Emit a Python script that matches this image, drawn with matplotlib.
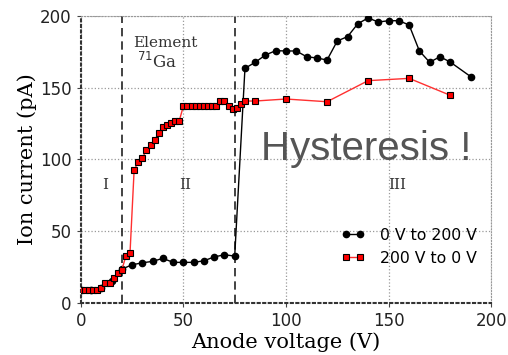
import numpy as np
import matplotlib
matplotlib.use('Agg')
import matplotlib.pyplot as plt

# sweep up: 0 V -> 200 V
up_v = [0, 5, 10, 15, 20, 25, 30, 35, 40, 45, 50, 55, 60, 65, 70, 75,
        80, 85, 90, 95, 100, 105, 110, 115, 120, 125, 130, 135, 140, 145,
        150, 155, 160, 165, 170, 175, 180, 190]
up_i = [9, 9, 10.5, 15, 23.5, 26.5, 27.9, 28.9, 31, 28.2, 28.2, 28.2, 29.3, 32, 33.5, 32.6,
        163.5, 167.7, 172.8, 175.8, 175.6, 175.6, 171.6, 170.7, 169.3, 182.6, 185.6, 194.6, 198.6, 195.8,
        196.7, 196.7, 193.7, 175.6, 167.7, 171.6, 167.9, 157.7]

# sweep down: 200 V -> 0 V
down_v = [0, 2, 4, 6, 8, 10, 12, 14, 16, 18, 20, 22, 24, 26, 28, 30, 32, 34, 36, 38,
          40, 42, 44, 46, 48, 50, 52, 54, 56, 58, 60, 62, 64, 66, 68, 70, 72, 74,
          76, 78, 80, 85, 100, 120, 140, 160, 180]
down_i = [9, 9, 9, 9, 9, 10.5, 13.7, 13.7, 17.4, 20.5, 22.8, 32.8, 34.9, 92.6, 98.2, 101, 106.3, 110, 113.7, 118.2,
          122.8, 123.8, 125.4, 127, 127, 137.2, 137.2, 137.2, 137.2, 137.2, 137.2, 137.2, 137.2, 137.2, 140.7, 140.7, 137.2, 135.1,
          135.6, 138.6, 140.7, 140.7, 142.1, 140.2, 154.9, 156.5, 144.7]

region_bounds = [20, 75]
region_names = ['I', 'II', 'III']
region_x = [11.7, 50.7, 154]

fig = plt.figure(figsize=(5.08, 3.55), dpi=100)
ax = fig.add_axes([0.159, 0.147, 0.808, 0.808])

ax.plot(up_v, up_i, '-o', color='black', lw=1.0, ms=4.5, label='0 V to 200 V', zorder=3)
ax.plot(down_v, down_i, '-s', color='#ff3030', lw=1.0, ms=5, mfc='red', mec='black', mew=0.8,
        label='200 V to 0 V', zorder=4)

for b in region_bounds:
    ax.axvline(b, color='#222222', ls='--', lw=1.2, dashes=(5, 3), zorder=2)

for name, xv in zip(region_names, region_x):
    ax.text(xv, 82, name, family='DejaVu Serif', fontsize=11, ha='center', va='center', color='#333333')

ax.text(25.5, 181, 'Element', family='DejaVu Serif', fontsize=11, ha='left', va='center', color='#333333')
ax.text(27.5, 168, r'$^{71}$Ga', family='DejaVu Serif', fontsize=12, ha='left', va='center', color='#333333')

ax.text(88, 99.5, 'Hysteresis !', family='Liberation Sans', fontsize=29, color='#555555', ha='left', va='baseline')

ax.set_xlim(0, 200)
ax.set_ylim(0, 200)
ax.set_xticks([0, 50, 100, 150, 200])
ax.set_yticks([0, 50, 100, 150, 200])
ax.tick_params(labelsize=12, length=3, color='#444444', labelcolor='#222222')
ax.grid(True, ls=':', color='#999999', lw=0.9)
for s in ['top', 'right']:
    ax.spines[s].set_linestyle(':')
    ax.spines[s].set_color('#999999')
for s in ['left', 'bottom']:
    ax.spines[s].set_linestyle(':')
    ax.spines[s].set_color('#333333')
    ax.spines[s].set_linewidth(1.5)

ax.set_xlabel('Anode voltage (V)', family='DejaVu Serif', fontsize=15, labelpad=2)
ax.set_ylabel('Ion current (pA)', family='DejaVu Serif', fontsize=15, labelpad=2)

ax.legend(loc='lower right', bbox_to_anchor=(1.0, 0.08), frameon=False, fontsize=11.3,
          handlelength=1.5, handletextpad=1.0, numpoints=2)

fig.savefig('out.png', dpi=100)
